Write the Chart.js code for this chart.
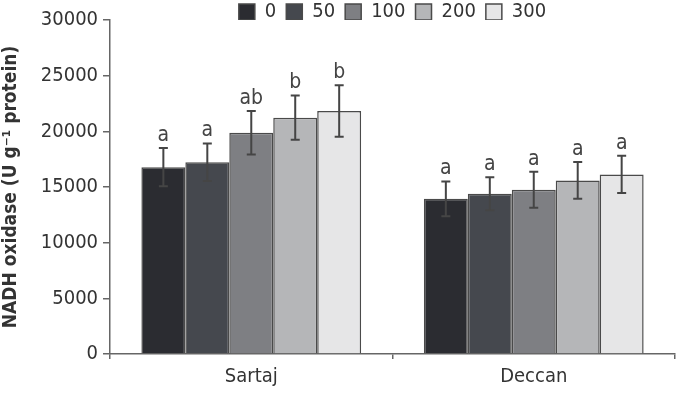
<!DOCTYPE html>
<html>
<head>
<meta charset="utf-8">
<script src="https://cdn.jsdelivr.net/npm/chart.js@4.4.1/dist/chart.umd.min.js"></script>
<style>
  html, body { margin: 0; padding: 0; background: #ffffff; }
  #wrap { width: 693px; height: 393px; }
</style>
</head>
<body>
<div id="wrap"><canvas id="grafica_nadh"></canvas></div>
<script>
// Datos
const categorias = ['Sartaj', 'Deccan'];
const niveles = ['0', '50', '100', '200', '300'];

const valores_sartaj = [16780, 17230, 19880, 21230, 21830];
const error_sartaj   = [1720, 1680, 1950, 1990, 2310];
const letras_sartaj  = ['a', 'a', 'ab', 'b', 'b'];

const valores_deccan = [13940, 14390, 14750, 15590, 16130];
const error_deccan   = [1560, 1480, 1620, 1650, 1680];
const letras_deccan  = ['a', 'a', 'a', 'a', 'a'];

const ticks_y = [0, 5000, 10000, 15000, 20000, 25000, 30000];

const colores = ['#2b2c31', '#45484e', '#7e7f83', '#b5b6b8', '#e6e6e7'];
const fuente = '"DejaVu Sans Condensed", "Liberation Sans Narrow", sans-serif';

// un dataset por nivel, con sus errores y letras por categoria
const datasets = niveles.map(function(nivel, i) {
    return {
        label: nivel,
        data: [valores_sartaj[i], valores_deccan[i]],
        errores: [error_sartaj[i], error_deccan[i]],
        letras: [letras_sartaj[i], letras_deccan[i]],
        backgroundColor: colores[i],
        borderColor: '#4a4a4a',
        borderWidth: 1.5,
        borderSkipped: 'bottom'
    };
});

// barras de error y letras de significancia
const plugin_errores = {
    id: 'errores',
    afterDatasetsDraw: function(chart) {
        const ctx = chart.ctx;
        const y = chart.scales.y;
        ctx.save();
        chart.data.datasets.forEach(function(ds, di) {
            const meta = chart.getDatasetMeta(di);
            meta.data.forEach(function(bar, j) {
                const v = ds.data[j], e = ds.errores[j];
                const yTop = y.getPixelForValue(v + e);
                const yBot = y.getPixelForValue(v - e);
                const x = bar.x;
                ctx.strokeStyle = '#454545';
                ctx.lineWidth = 2;
                ctx.beginPath();
                ctx.moveTo(x, yTop); ctx.lineTo(x, yBot);
                ctx.moveTo(x - 4.5, yTop); ctx.lineTo(x + 4.5, yTop);
                ctx.moveTo(x - 4.5, yBot); ctx.lineTo(x + 4.5, yBot);
                ctx.stroke();
                ctx.fillStyle = '#444444';
                ctx.font = '21px ' + fuente;
                ctx.textAlign = 'center';
                ctx.textBaseline = 'alphabetic';
                ctx.fillText(ds.letras[j], x, yTop - 7);
            });
        });
        ctx.restore();
    }
};

new Chart(document.getElementById('grafica_nadh'), {
    type: 'bar',
    data: { labels: categorias, datasets: datasets },
    options: {
        responsive: true,
        maintainAspectRatio: false,
        animation: false,
        layout: { padding: { left: 0, right: 18, top: -8, bottom: -2 } },
        datasets: { bar: { categoryPercentage: 0.778, barPercentage: 1.0 } },
        plugins: {
            legend: {
                position: 'top',
                fullSize: false,
                maxHeight: 28,
                labels: {
                    boxWidth: 16, boxHeight: 16, padding: 10,
                    color: '#333333',
                    font: { family: fuente, size: 20 }
                }
            },
            tooltip: { enabled: false }
        },
        scales: {
            x: {
                border: { display: true, color: '#666666', width: 1.5 },
                grid: { display: true, offset: true, drawOnChartArea: false, tickLength: 5, color: '#666666', lineWidth: 1.5 },
                ticks: { color: '#333333', padding: 6, font: { family: fuente, size: 20 } }
            },
            y: {
                min: 0, max: 30000,
                afterBuildTicks: function(axis) {
                    axis.ticks = ticks_y.map(function(v) { return { value: v }; });
                },
                border: { display: true, color: '#666666', width: 1.5 },
                grid: { display: true, drawOnChartArea: false, tickLength: 7, color: '#666666', lineWidth: 1.5 },
                ticks: {
                    color: '#333333', padding: 5,
                    font: { family: fuente, size: 20 },
                    callback: function(v) { return String(v); }
                },
                title: {
                    display: true,
                    text: 'NADH oxidase (U g⁻¹ protein)',
                    color: '#333333',
                    padding: { top: 0, bottom: 13 },
                    font: { family: fuente, size: 19, weight: 'bold' }
                }
            }
        }
    },
    plugins: [plugin_errores]
});
</script>
</body>
</html>
